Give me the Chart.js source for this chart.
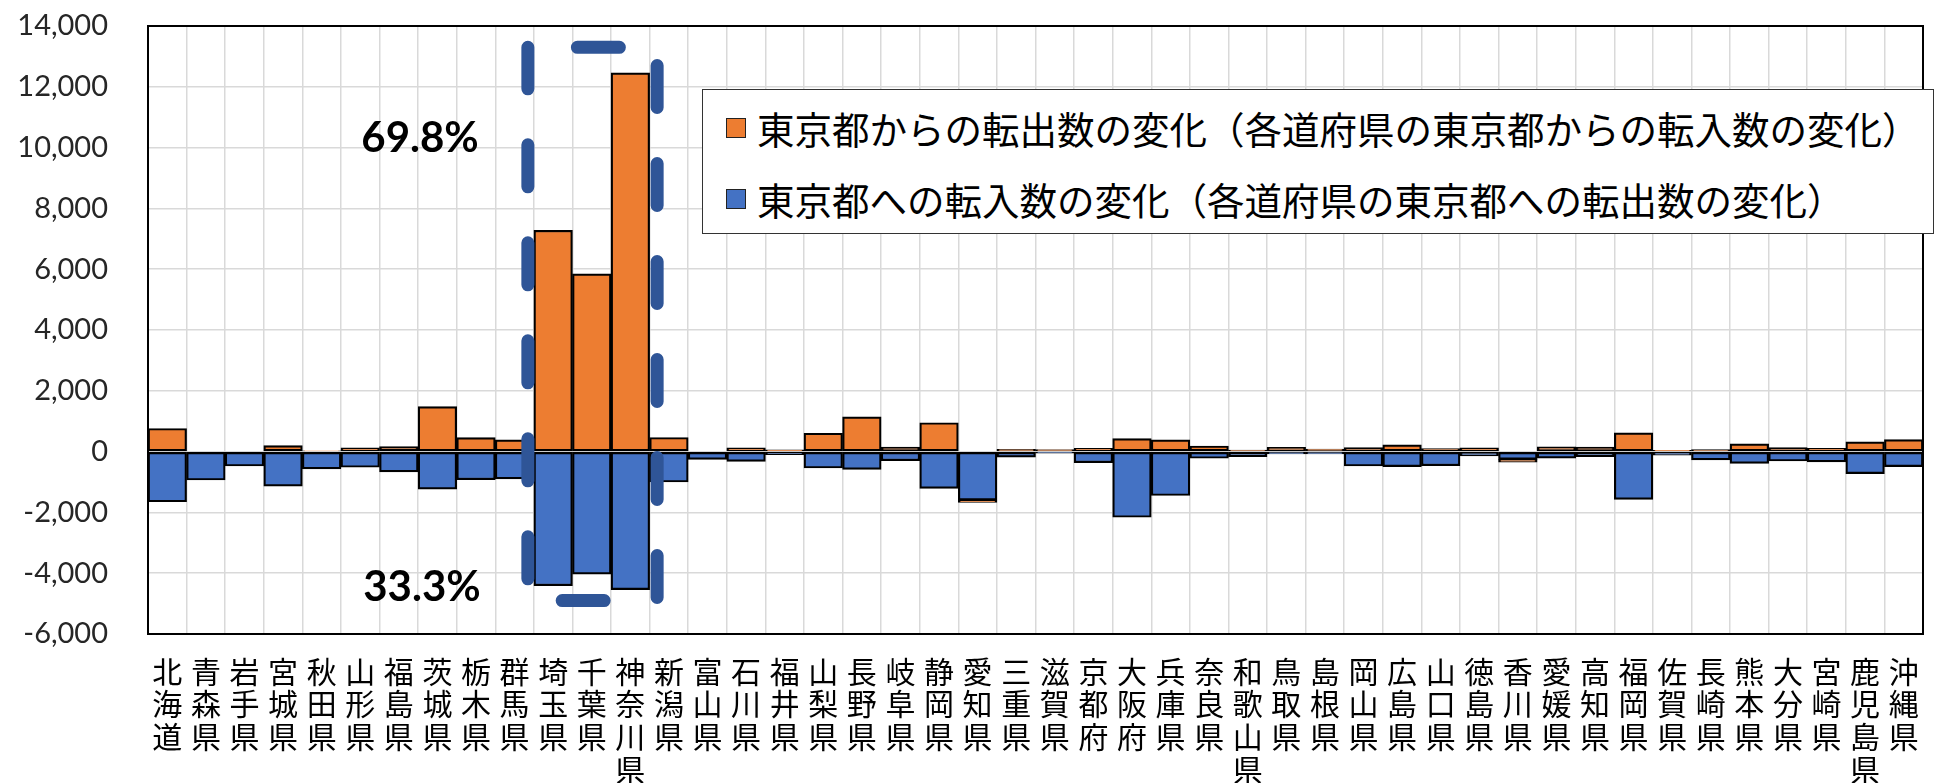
<!DOCTYPE html>
<html>
<head>
<meta charset="utf-8">
<script src="https://cdn.jsdelivr.net/npm/chart.js@4.4.1/dist/chart.umd.min.js"></script>
<style>
html,body{margin:0;padding:0;background:#fff;}
#wrap{position:relative;width:1937px;height:783px;overflow:hidden;}
#c{position:absolute;left:0;top:0;}
#legend{position:absolute;left:702px;top:89px;width:1232px;height:145px;border:1.5px solid #333;background:#fff;box-sizing:border-box;font-family:"Noto Sans CJK JP","Noto Sans CJK SC",sans-serif;font-size:37.5px;color:#000;}
.item{position:absolute;left:0;height:40px;display:flex;align-items:center;white-space:nowrap;line-height:40px;}
.sw{width:20px;height:20px;border:1.5px solid #222;margin-left:23px;margin-right:11px;box-sizing:border-box;flex:none;}
</style>
</head>
<body>
<div id="wrap">
<canvas id="c" width="1937" height="783"></canvas>
<div id="legend"></div>
</div>
<script>
// ---- data ----
const prefectures = ["北海道","青森県","岩手県","宮城県","秋田県","山形県","福島県","茨城県","栃木県","群馬県","埼玉県","千葉県","神奈川県","新潟県","富山県","石川県","福井県","山梨県","長野県","岐阜県","静岡県","愛知県","三重県","滋賀県","京都府","大阪府","兵庫県","奈良県","和歌山県","鳥取県","島根県","岡山県","広島県","山口県","徳島県","香川県","愛媛県","高知県","福岡県","佐賀県","長崎県","熊本県","大分県","宮崎県","鹿児島県","沖縄県"];

const outflowFromTokyo = [760,0,0,200,20,120,165,1480,460,385,7280,5850,12460,465,0,120,55,605,1145,145,950,-75,75,70,105,430,385,185,50,140,85,130,220,100,120,-95,155,145,615,40,65,255,130,110,320,395];

const inflowToTokyo = [-1650,-935,-475,-1135,-570,-515,-670,-1235,-925,-900,-4410,-4030,-4540,-1000,-255,-320,-100,-540,-585,-300,-1210,-1600,-185,-50,-365,-2160,-1445,-220,-165,-75,-75,-475,-495,-465,-145,-255,-215,-165,-1575,-120,-275,-385,-310,-340,-725,-495];

const seriesNames = ["東京都からの転出数の変化（各道府県の東京都からの転入数の変化）","東京都への転入数の変化（各道府県の東京都への転出数の変化）"];
const seriesColors = ["#ED7D31","#4472C4"];

const yMin = -6000, yMax = 14000, yStep = 2000;

// highlighted group and its share labels
const highlightFirst = "埼玉県", highlightLast = "神奈川県";
const highlightTop = 13300, highlightBottom = -4900;
const shareLabels = [
  {text:"69.8%", x:6.55, y:10300},
  {text:"33.3%", x:6.6,  y:-4460}
];

// ---- legend (HTML) ----
const legendEl = document.getElementById('legend');
[37.5, 109].forEach((top, i) => {
  const it = document.createElement('div');
  it.className = 'item';
  it.style.top = (top - 20) + 'px';
  const sw = document.createElement('span');
  sw.className = 'sw';
  sw.style.background = seriesColors[i];
  const tx = document.createElement('span');
  tx.textContent = seriesNames[i];
  it.appendChild(sw); it.appendChild(tx);
  legendEl.appendChild(it);
});

// ---- plugin: plot border, dashed highlight, share labels ----
const decor = {
  id: 'decor',
  afterDatasetsDraw(chart) {
    const {ctx, chartArea: a, scales: {x, y}} = chart;
    ctx.save();
    // highlight rectangle
    const bw = x.getPixelForValue(1) - x.getPixelForValue(0);
    const i0 = prefectures.indexOf(highlightFirst), i1 = prefectures.indexOf(highlightLast);
    const L = x.getPixelForValue(i0) - bw / 2 - 6;
    const R = x.getPixelForValue(i1) + bw / 2 + 7.5;
    const T = y.getPixelForValue(highlightTop);
    const B = y.getPixelForValue(highlightBottom);
    ctx.strokeStyle = '#2F5597';
    ctx.lineWidth = 13;
    ctx.lineCap = 'round';
    ctx.setLineDash([42, 56]);
    ctx.lineDashOffset = 48.5;
    ctx.beginPath();
    ctx.moveTo(L, T); ctx.lineTo(R, T); ctx.lineTo(R, B); ctx.lineTo(L, B); ctx.closePath();
    ctx.stroke();
    ctx.setLineDash([]);
    // share labels
    ctx.fillStyle = '#000';
    ctx.font = 'bold 42px Lato';
    ctx.textAlign = 'center';
    ctx.textBaseline = 'middle';
    shareLabels.forEach(s => {
      ctx.fillText(s.text, x.getPixelForValue(s.x), y.getPixelForValue(s.y));
    });
    // plot border
    ctx.strokeStyle = '#000';
    ctx.lineWidth = 2;
    ctx.strokeRect(a.left, a.top, a.right - a.left, a.bottom - a.top);
    ctx.restore();
  }
};

new Chart(document.getElementById('c'), {
  type: 'bar',
  data: {
    labels: prefectures,
    datasets: [
      {label: seriesNames[1], data: inflowToTokyo, backgroundColor: seriesColors[1], borderColor: '#000', borderWidth: 2.2, borderSkipped: false},
      {label: seriesNames[0], data: outflowFromTokyo, backgroundColor: seriesColors[0], borderColor: '#000', borderWidth: 2.2, borderSkipped: false}
    ]
  },
  options: {
    responsive: false,
    devicePixelRatio: 1,
    animation: false,
    layout: {padding: {top: 26, right: 14, bottom: 0, left: 0}},
    datasets: {bar: {barPercentage: 1, categoryPercentage: 1}},
    plugins: {legend: {display: false}, tooltip: {enabled: false}},
    scales: {
      x: {
        stacked: true,
        grid: {color: '#d9d9d9', lineWidth: 1.5, drawTicks: false, offset: true},
        border: {display: false},
        ticks: {
          autoSkip: false, maxRotation: 0, minRotation: 0, padding: 21, color: '#000',
          font: {family: '"Noto Sans CJK JP"', size: 30, lineHeight: 1.09},
          callback: (v, i) => prefectures[i].split('')
        },
        afterFit(s) { s.height = 149; s.paddingLeft = 0; s.paddingRight = 0; }
      },
      y: {
        stacked: true,
        min: yMin, max: yMax,
        grid: {color: '#d9d9d9', lineWidth: 1.5, drawTicks: false},
        border: {display: false},
        ticks: {
          stepSize: yStep, padding: 40, color: '#262626',
          font: {family: 'Lato', size: 29},
          callback: v => v.toLocaleString('en-US')
        },
        afterFit(s) { s.width = 148; s.paddingTop = 0; s.paddingBottom = 0; }
      }
    }
  },
  plugins: [decor]
});
</script>
</body>
</html>
